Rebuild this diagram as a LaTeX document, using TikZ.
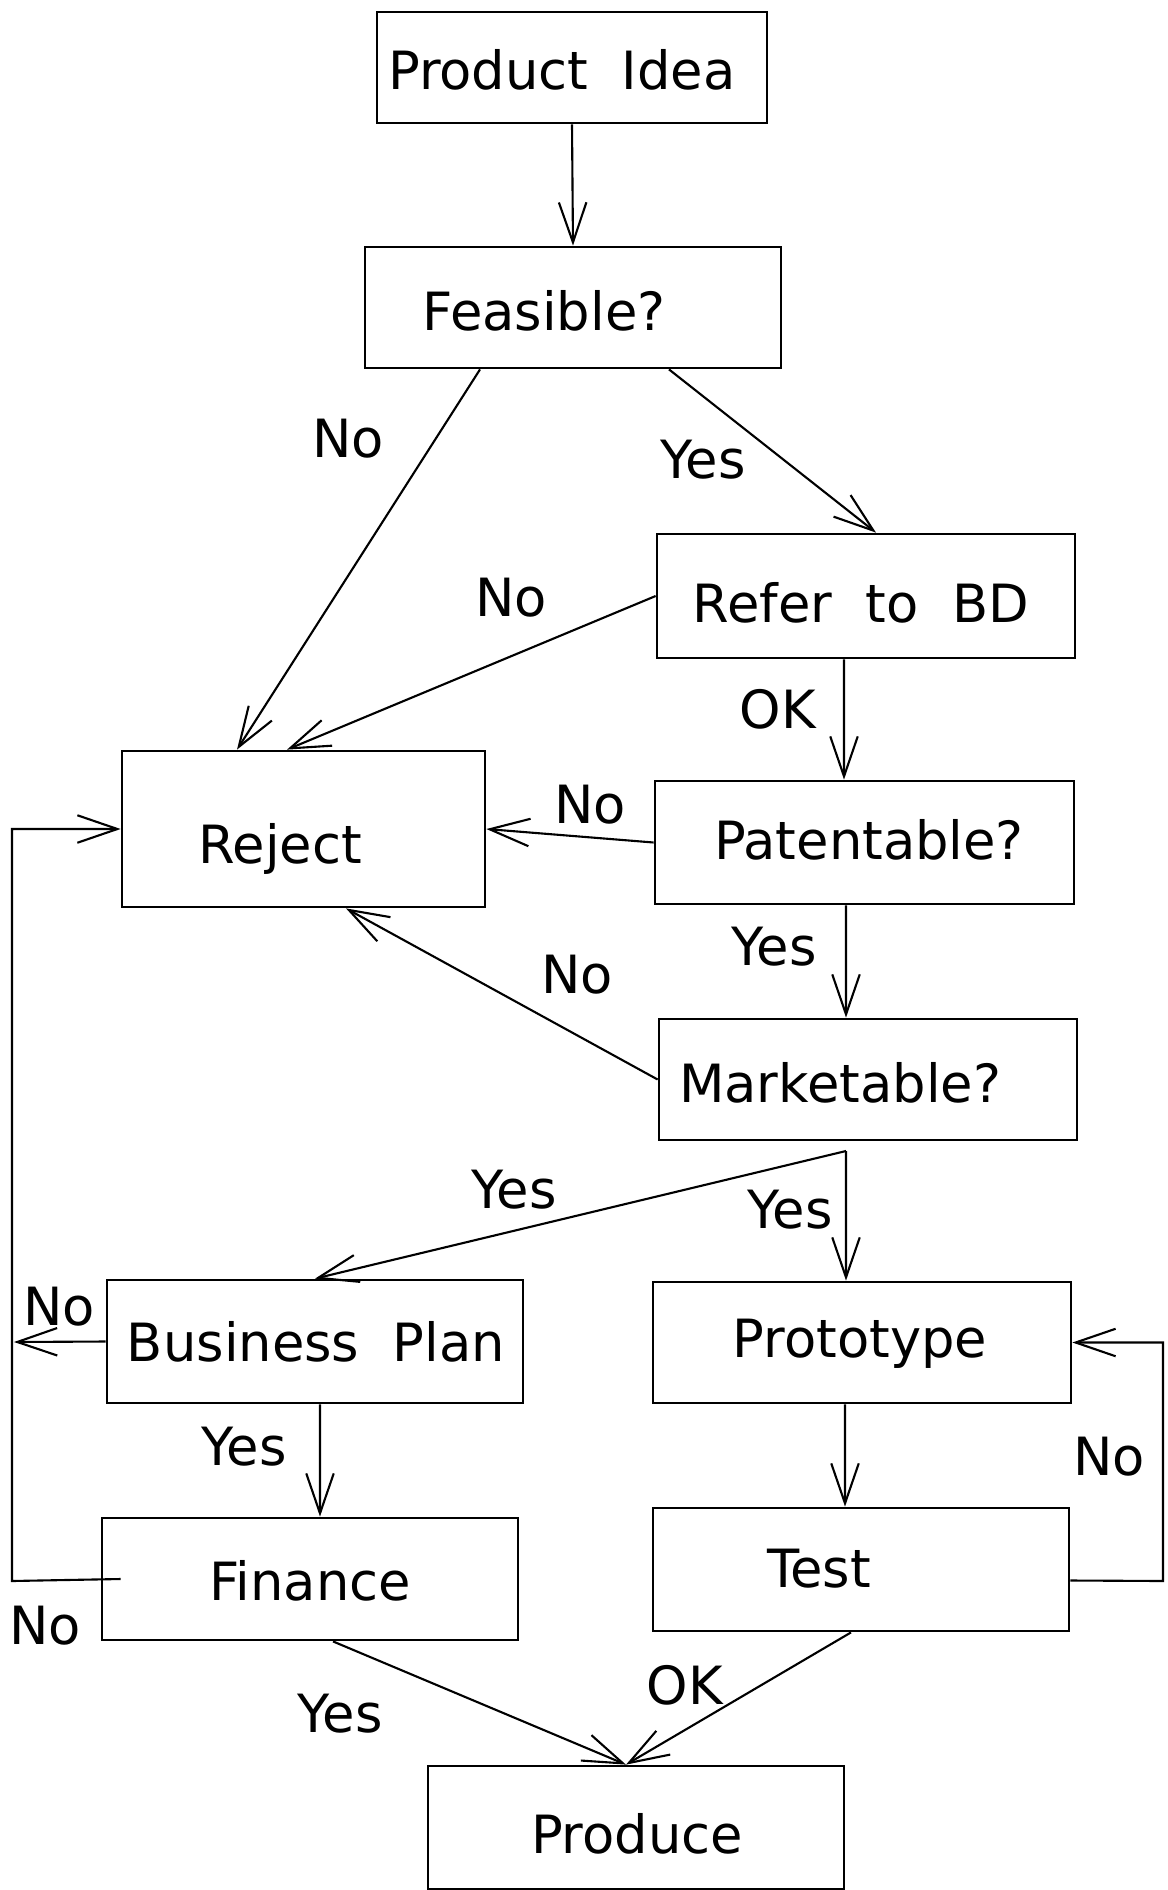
\documentclass[tikz,border=0pt]{standalone}
\usepackage{fontspec}
\setmainfont[WordSpace=2]{DejaVu Sans}
\usetikzlibrary{arrows.meta}
\begin{document}
\begin{tikzpicture}[x=0.02cm,y=-0.02cm,
    box/.style={draw,line width=1.6pt,inner sep=0pt,minimum width=8.32cm,minimum height=2.44cm},
    txt/.style={font=\fontsize{30}{36}\selectfont,text height=22pt,text depth=0pt,inner sep=0pt},
    flow/.style={line width=1.2pt,-{Straight Barb[length=0.8cm,width=0.55cm,line width=1.2pt]}}]
    \useasboundingbox (0,0) rectangle (1167,1890);
    \node[box,minimum width=7.8cm,minimum height=2.22cm] (idea) at (572,67.5) {};
    \node[box,minimum height=2.42cm] (feas) at (573,307.5) {};
    \node[box,minimum width=8.36cm,minimum height=2.48cm] (refer) at (866,596) {};
    \node[box,minimum width=7.26cm,minimum height=3.12cm] (reject) at (303.5,829) {};
    \node[box,minimum width=8.38cm,minimum height=2.46cm] (patent) at (864.5,842.5) {};
    \node[box,minimum width=8.36cm,minimum height=2.42cm] (market) at (868,1079.5) {};
    \node[box,minimum height=2.46cm] (bplan) at (315,1341.5) {};
    \node[box,minimum width=8.36cm,minimum height=2.42cm] (proto) at (862,1342.5) {};
    \node[box] (finance) at (310,1579) {};
    \node[box,minimum height=2.46cm] (test) at (861,1569.5) {};
    \node[box,minimum height=2.46cm] (produce) at (636,1827.5) {};
    \node[txt] (ideaT) at (562,70) {Product Idea};
    \node[txt] (feasT) at (544,311) {Feasible?};
    \node[txt] (referT) at (861,603) {Refer to BD};
    \node[txt] (rejectT) at (280,844) {Reject};
    \node[txt] (patentT) at (869,840) {Patentable?};
    \node[txt] (marketT) at (840,1083) {Marketable?};
    \node[txt] (bplanT) at (316,1342) {Business Plan};
    \node[txt] (protoT) at (860,1338) {Prototype};
    \node[txt] (financeT) at (310,1581) {Finance};
    \node[txt] (testT) at (819,1568) {Test};
    \node[txt] (produceT) at (637,1834) {Produce};
    \node[txt] (no1) at (348,438) {No};
    \node[txt] (yes1) at (703,459) {Yes};
    \node[txt] (no2) at (511,597) {No};
    \node[txt] (ok1) at (778,709) {OK};
    \node[txt] (no3) at (590,804) {No};
    \node[txt] (yes2) at (774,946) {Yes};
    \node[txt] (no4) at (577,974) {No};
    \node[txt] (yes3) at (514,1189) {Yes};
    \node[txt] (yes4) at (790,1209) {Yes};
    \node[txt] (no5) at (59,1306) {No};
    \node[txt] (yes5) at (244,1446) {Yes};
    \node[txt] (no6) at (45,1625) {No};
    \node[txt] (yes6) at (340,1713) {Yes};
    \node[txt] (ok2) at (685,1685) {OK};
    \node[txt] (no7) at (1109,1456) {No};
    \coordinate (split) at (846,1151);
    \coordinate (bpno) at (14,1342);
    \coordinate (loopl) at (12,1581);
    \coordinate (loopr) at (1163,1581);
    \draw[flow] (idea.south) -- (feas.north);
    \draw[flow] ([xshift=-1.86cm]feas.south) -- ([xshift=-1.33cm]reject.north);
    \draw[flow] ([xshift=1.92cm]feas.south) -- ([xshift=0.2cm]refer.north);
    \draw[flow] (refer.west) -- ([xshift=-0.33cm]reject.north);
    \draw[flow] ([xshift=-0.44cm]refer.south) -- ([xshift=-0.41cm]patent.north);
    \draw[flow] (patent.west) -- (reject.east);
    \draw[flow] ([xshift=-0.37cm]patent.south) -- ([xshift=-0.44cm]market.north);
    \draw[flow] (market.west) -- ([xshift=0.85cm]reject.south);
    \draw[flow] (split) -- (bplan.north);
    \draw[flow] (split) -- ([xshift=-0.32cm]proto.north);
    \draw[flow] (bplan.west) -- (bpno);
    \draw[flow] ([xshift=0.1cm]bplan.south) -- ([xshift=0.2cm]finance.north);
    \draw[flow] ([xshift=0.4cm]finance.west) -- (loopl) |- (reject.west);
    \draw[flow] ([xshift=0.46cm]finance.south) -- ([xshift=-0.2cm]produce.north);
    \draw[flow] ([xshift=-0.2cm]test.south) -- ([xshift=-0.2cm]produce.north);
    \draw[flow] ([xshift=-0.34cm]proto.south) -- ([xshift=-0.32cm]test.north);
    \draw[flow] ([yshift=-0.22cm]test.east) -- (loopr) |- (proto.east);
\end{tikzpicture}
\end{document}
